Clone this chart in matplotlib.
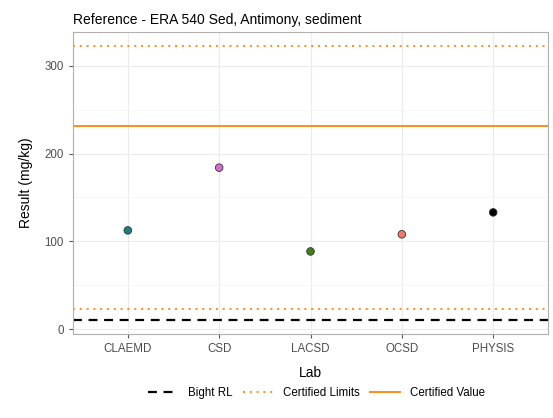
import matplotlib
matplotlib.use("Agg")
import matplotlib.pyplot as plt
from matplotlib.lines import Line2D

plt.rcParams["font.family"] = ["Liberation Sans", "DejaVu Sans"]

LABS = ["CLAEMD", "CSD", "LACSD", "OCSD", "PHYSIS"]
RESULTS = [112.5, 184, 88.5, 108, 133]
LAB_COLORS = ["#1a8080", "#d16fd1", "#3f7f1a", "#f07a6a", "#000000"]

CERTIFIED_VALUE = 231
CERTIFIED_LIMITS = [23, 323]
BIGHT_RL = 10

ORANGE = "#ff8c1a"

fig = plt.figure(figsize=(5.53, 4.18), dpi=100)
ax = fig.add_axes([73 / 553, 1 - 334 / 418, 475 / 553, 302 / 418])

x = list(range(1, len(LABS) + 1))

ax.axhline(BIGHT_RL, color="black", lw=1.6, ls=(0, (4, 3)), zorder=2)
for lim in CERTIFIED_LIMITS:
    ax.axhline(lim, color=ORANGE, lw=1.4, ls=(0, (1, 2.5)), zorder=2)
ax.axhline(CERTIFIED_VALUE, color=ORANGE, lw=1.4, zorder=2)

ax.scatter(x, RESULTS, s=30, c=LAB_COLORS, edgecolors="#333333",
           linewidths=0.6, zorder=3)

ax.set_xlim(0.4, len(LABS) + 0.6)
ax.set_ylim(-5.6, 338.6)
ax.set_xticks(x)
ax.set_xticklabels(LABS)
ax.set_yticks([0, 100, 200, 300])
ax.set_yticks([50, 150, 250], minor=True)

ax.grid(which="major", color="#ebebeb", lw=0.8)
ax.grid(which="minor", axis="y", color="#f4f4f4", lw=0.5)
ax.set_axisbelow(True)
for sp in ax.spines.values():
    sp.set_color("#b0b0b0")
    sp.set_linewidth(0.8)
ax.tick_params(which="major", length=3, color="#555555", labelcolor="#4d4d4d",
               labelsize=8.3)
ax.tick_params(which="minor", length=0)

ax.set_title("Reference - ERA 540 Sed, Antimony, sediment", loc="left",
             fontsize=10, pad=6)
ax.set_ylabel("Result (mg/kg)", fontsize=10, labelpad=8)
ax.set_xlabel("Lab", fontsize=10, labelpad=8)

handles = [
    Line2D([], [], color="black", lw=1.6, ls=(0, (4, 3))),
    Line2D([], [], color=ORANGE, lw=1.4, ls=(0, (1, 2.5))),
    Line2D([], [], color=ORANGE, lw=1.4),
]
fig.legend(handles, ["Bight RL", "Certified Limits", "Certified Value"],
           loc="center", bbox_to_anchor=(0.572, 1 - 393 / 418), ncol=3,
           frameon=False, fontsize=8.3, handlelength=2.6, handletextpad=0.85,
           columnspacing=0.9)

fig.savefig("out.png", dpi=100)
